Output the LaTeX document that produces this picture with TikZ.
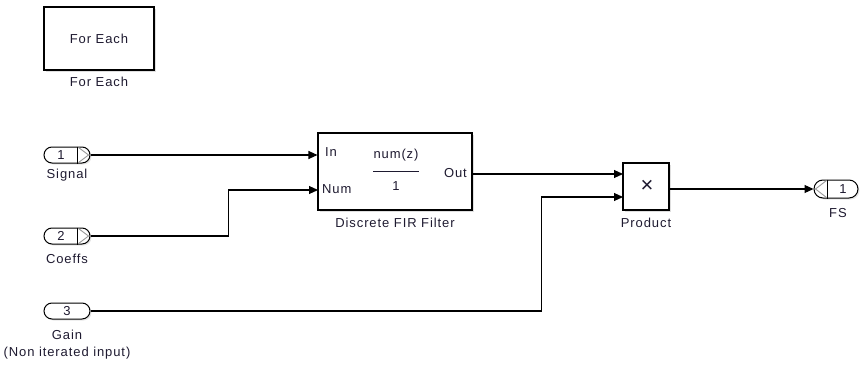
\documentclass[tikz,border=0pt]{standalone}
\usepackage{fontspec}
\setmainfont{Liberation Sans}[LetterSpace=7]
\usetikzlibrary{arrows.meta,shadows}
\definecolor{txt}{HTML}{1E1A30}
\definecolor{chev}{HTML}{9A9A9A}
\begin{document}
\begin{tikzpicture}[x=1pt,y=-1pt,
  font=\fontsize{13}{15}\selectfont,
  blk/.style={draw=black, line width=1.1pt, fill=white, rectangle, inner sep=0pt,
    drop shadow={shadow xshift=2pt, shadow yshift=-2pt, opacity=0.25, fill=gray}},
  port/.style={draw=black, line width=1pt, fill=white, rectangle, rounded corners=8pt,
    minimum width=46pt, minimum height=16pt, inner sep=0pt, text=txt,
    drop shadow={shadow xshift=1.5pt, shadow yshift=-1.5pt, opacity=0.2, fill=gray}},
  lbl/.style={text=txt, inner sep=0pt},
  sig/.style={draw=black, line width=1.1pt, -{Triangle[length=9pt,width=8pt]}},
  chevline/.style={draw=chev, line width=0.9pt}
]
\useasboundingbox (0,0) rectangle (860,369);

% For Each block
\node[blk, minimum width=110pt, minimum height=63pt] (fe) at (99,38.5) {};
\node[lbl] (feT) at (fe.center) {For Each};
\node[lbl] (feL) at (99,82) {For Each};

% Inports
\node[port] (in1) at (67,155) {};
\node[port] (in2) at (67,236) {};
\node[port] (in3) at (67,311) {};
\node[lbl] (in1T) at (61,155) {1};
\node[lbl] (in2T) at (61,236) {2};
\node[lbl] (in3T) at (67,311) {3};
\foreach \p in {in1,in2}{
  \draw[line width=1pt] ([xshift=-13pt]\p.north east) -- ([xshift=-13pt]\p.south east);
  \draw[chevline] ([xshift=-12pt,yshift=-1pt]\p.north east) -- ([xshift=-2pt]\p.east) -- ([xshift=-12pt,yshift=1pt]\p.south east);
}
\node[lbl] (in1L) at (67,175) {Signal};
\node[lbl] (in2L) at (67,259) {Coeffs};
\node[lbl] (in3L) at (67,335) {Gain};
\node[lbl] (in3L2) at (67,353) {(Non iterated input)};

% Discrete FIR Filter
\node[blk, minimum width=154pt, minimum height=77pt] (fir) at (395,171.5) {};
\node[lbl, anchor=west] (firIn) at (325,152) {In};
\node[lbl, anchor=west] (firNum) at (322,189) {Num};
\node[lbl, anchor=east] (firOut) at (467,173) {Out};
\node[lbl] (firNz) at (396,155) {num(z)};
\node[lbl] (firOne) at (396,186) {1};
\draw[line width=1pt, draw=txt] (373,171) -- (419,171);
\node[lbl] (firL) at (395,223) {Discrete FIR Filter};

% Product
\node[blk, minimum width=46pt, minimum height=47pt] (prod) at (646,186.5) {};
\node[lbl, font=\fontsize{22}{22}\selectfont] (prodT) at (647,186) {×};
\node[lbl] (prodL) at (646,223) {Product};

% Outport
\node[port, minimum width=44pt, minimum height=18pt, rounded corners=9pt] (fs) at (836,189) {};
\draw[line width=1pt] ([xshift=14pt]fs.north west) -- ([xshift=14pt]fs.south west);
\draw[chevline] ([xshift=13pt,yshift=-1pt]fs.north west) -- ([xshift=2pt]fs.west) -- ([xshift=13pt,yshift=1pt]fs.south west);
\node[lbl] (fsT) at (843,189) {1};
\node[lbl] (fsL) at (838,213) {FS};

% port coordinates
\coordinate (firin) at (fir.west |- in1.east);
\coordinate (firnum) at (318,190);
\coordinate (pin1) at (623,174);
\coordinate (pin2) at (623,197);

% connectors
\draw[sig] (in1.east) -- (firin);
\draw[sig] (in2.east) -- ++(138pt,0) |- (firnum);
\draw[sig] (fir.east |- pin1) -- (pin1);
\draw[sig] (in3.east) -- ++(451pt,0) |- (pin2);
\draw[sig] (prod.east |- fs.west) -- (fs.west);
\end{tikzpicture}
\end{document}
